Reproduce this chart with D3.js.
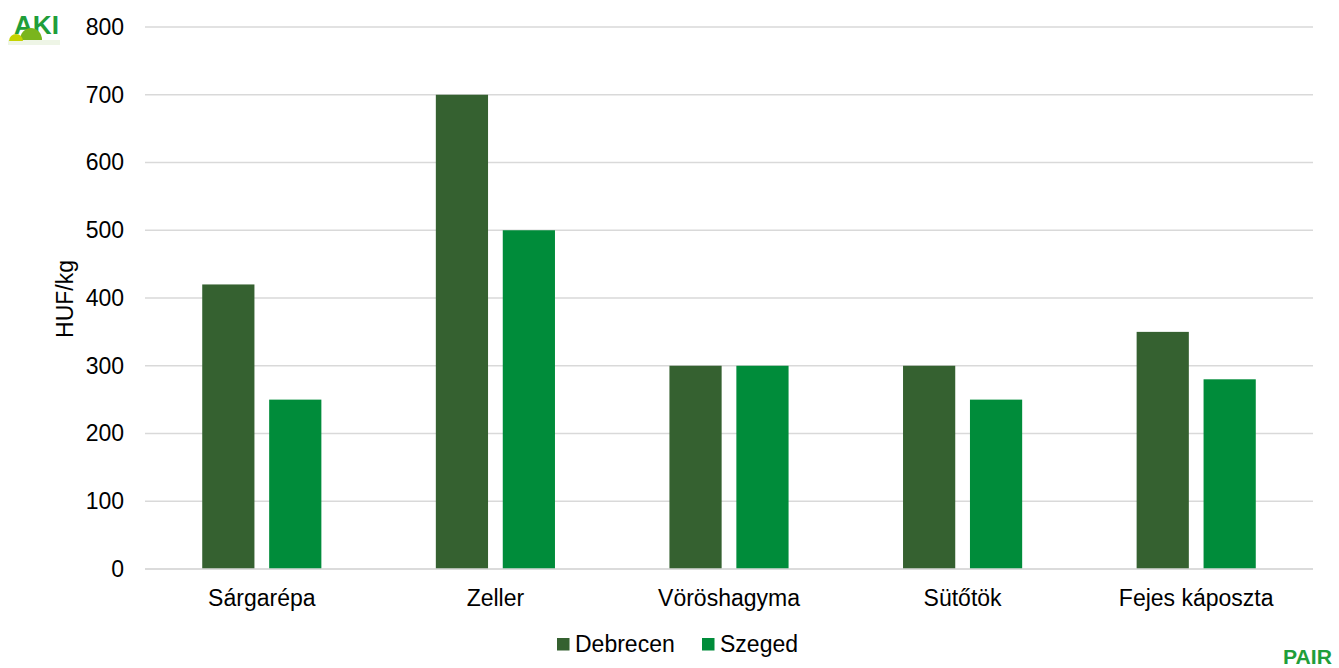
<!DOCTYPE html>
<html><head><meta charset="utf-8">
<script src="https://cdn.jsdelivr.net/npm/d3@7"></script>
<style>body{margin:0;background:#fff}svg{display:block}text{font-family:"Liberation Sans",Arial,sans-serif}</style>
</head><body><svg id="c" width="1339" height="668"></svg>
<script>
const categories = ["Sárgarépa","Zeller","Vöröshagyma","Sütőtök","Fejes káposzta"];
const seriesNames = ["Debrecen","Szeged"];
const debrecen = [420,700,300,300,350];
const szeged = [250,500,300,250,280];
const yTicks = [0,100,200,300,400,500,600,700,800];
const colors = ["#356130","#008C3A"];
const values = [debrecen, szeged];

const FS = 23;
const svg = d3.select("#c");
const m = {l:145, r:1313, t:27, b:569};
const x0 = d3.scaleBand().domain(categories).range([m.l,m.r]).paddingInner(0.49).paddingOuter(0.245);
const x1 = d3.scaleBand().domain(seriesNames).range([0,x0.bandwidth()]).paddingInner(0.22);
const y = d3.scaleLinear().domain([0,800]).range([m.b,m.t]);

// grid
svg.append("g").selectAll("line").data(yTicks).join("line")
  .attr("x1",m.l).attr("x2",m.r).attr("y1",d=>y(d)).attr("y2",d=>y(d))
  .attr("stroke","#d9d9d9").attr("stroke-width",1.5);

// y axis
const ya = svg.append("g").attr("transform",`translate(${m.l},0)`)
  .call(d3.axisLeft(y).tickValues(yTicks).tickSize(0).tickPadding(21));
ya.select(".domain").remove();
ya.selectAll("text").attr("font-size",FS).attr("fill","#000").style("font-family","Liberation Sans, Arial, sans-serif");

// bars
seriesNames.forEach((s,si)=>{
  svg.append("g").selectAll("rect").data(categories).join("rect")
    .attr("x",c=>x0(c)+x1(s)).attr("width",x1.bandwidth())
    .attr("y",(c,i)=>y(values[si][i])).attr("height",(c,i)=>y(0)-y(values[si][i]))
    .attr("fill",colors[si]);
});

// x axis
svg.append("line").attr("x1",m.l).attr("x2",m.r).attr("y1",y(0)).attr("y2",y(0)).attr("stroke","#d9d9d9").attr("stroke-width",1.5);
const xa = svg.append("g").attr("transform",`translate(0,${m.b})`)
  .call(d3.axisBottom(x0).tickSize(0).tickPadding(21));
xa.select(".domain").remove();
xa.selectAll("text").attr("font-size",FS).attr("fill","#000").style("font-family","Liberation Sans, Arial, sans-serif");

// y title
svg.append("text").attr("transform","translate(73,299) rotate(-90)").attr("text-anchor","middle")
  .attr("font-size",FS).attr("fill","#000").text("HUF/kg");

// legend
const leg = svg.append("g");
const legX = [557,702];
seriesNames.forEach((s,i)=>{
  leg.append("rect").attr("x",legX[i]).attr("y",638).attr("width",12.5).attr("height",12.5).attr("fill",colors[i]);
  leg.append("text").attr("x",legX[i]+18).attr("y",652).attr("font-size",FS).attr("fill","#000").text(s);
});

// AKI logo
const logo = svg.append("g");
logo.append("rect").attr("x",8).attr("y",40).attr("width",52).attr("height",5).attr("fill","#eef5e6");
logo.append("text").attr("x",14).attr("y",34).attr("font-size",25).attr("font-weight","bold").attr("fill","#1f9e3a")
  .attr("textLength",45).attr("lengthAdjust","spacingAndGlyphs").text("AKI");
logo.append("path").attr("d","M20,40 A11,12 0 0 1 42,40 Z").attr("fill","#7ab51d");
logo.append("path").attr("d","M9,41 A7,7 0 0 1 23,41 Z").attr("fill","#c5d300");
// PAIR logo
svg.append("text").attr("x",1283).attr("y",664).attr("font-size",21).attr("font-weight","bold").attr("fill","#1f9e3a")
  .attr("textLength",49).attr("lengthAdjust","spacingAndGlyphs").text("PAIR");
</script></body></html>
